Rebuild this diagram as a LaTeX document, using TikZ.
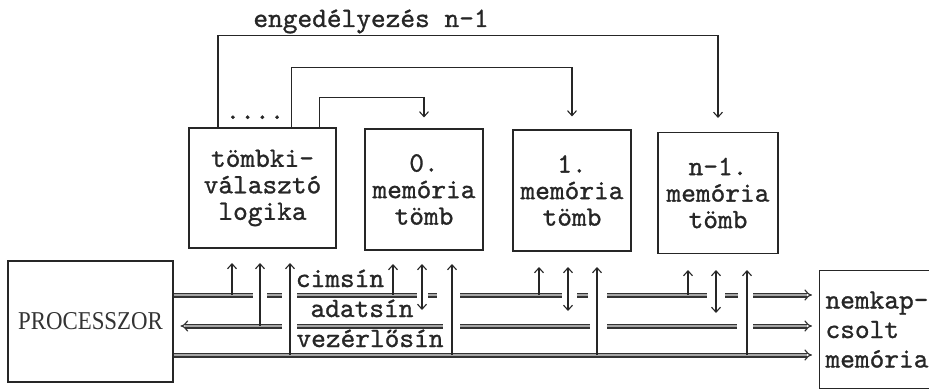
\documentclass[tikz,border=0pt]{standalone}
\usepackage{fontspec}
\newfontfamily\procfont{Liberation Serif}
\newfontfamily\dotfont{lmmono10-regular}[Extension=.otf, FakeBold=1.0]
\usetikzlibrary{arrows.meta}
\begin{document}
\begin{tikzpicture}[x=1pt,y=-1pt,
  box/.style={draw=black!85, line width=1.1pt, inner sep=0pt},
  tt/.style={font=\dotfont\fontsize{28pt}{26.5pt}\selectfont, text=black!85},
  bus/.style={draw=black!80, line width=1.2pt, double=black!35, double distance=2.6pt},
  busarrow/.style={bus, -{Implies}},
  sig/.style={draw=black!85, line width=1.1pt, -{Straight Barb[length=5pt,width=9pt]}},
  bisig/.style={draw=black!85, line width=1.1pt, {Straight Barb[length=5pt,width=9pt]}-{Straight Barb[length=5pt,width=9pt]}}
]
\useasboundingbox (0,0) rectangle (929,390);
\clip (0,0) rectangle (929,390);

% boxes
\node[box, tt, align=center, minimum width=147pt, minimum height=120pt] (sel) at (262.5,188) {tömbki-\\választó\\logika};
\node[box, tt, align=center, minimum width=118pt, minimum height=121pt] (m0) at (424,189.5) {0.\\memória\\tömb};
\node[box, tt, align=center, minimum width=118pt, minimum height=121pt] (m1) at (572,190.5) {1.\\memória\\tömb};
\node[box, tt, align=center, minimum width=120pt, minimum height=121pt] (m2) at (718,193) {n-1.\\memória\\tömb};
\node[box, minimum width=165pt, minimum height=121pt] (proc) at (90.5,321.5)
  {\procfont\fontsize{25.7pt}{30pt}\selectfont\color{black!80}\scalebox{0.89}[1]{PROCESSZOR}};
\node[box, tt, font=\dotfont\fontsize{28pt}{29.5pt}\selectfont, align=left, anchor=north west,
  minimum height=118pt, text width=110pt, inner xsep=6pt] (nm) at (819,270) {nemkap-\\csolt\\memória};

% top enable lines
\node[tt, anchor=base] (lab) at (371,27) {engedélyezés n-1};
\node[tt, anchor=base] (dots) at (255,119) {....};
\draw[sig] ([xshift=29.5pt]sel.north west) -- ++(0,-92) -| ([yshift=14pt]m2.north);
\draw[sig] ([xshift=103pt]sel.north west) -- ++(0,-60) -| ([yshift=13pt]m1.north);
\draw[sig] ([xshift=131pt]sel.north west) -- ++(0,-30) -| ([yshift=11pt]m0.north);

% bus levels
\coordinate (ya) at (0,295);
\coordinate (yd) at (0,326);
\coordinate (yc) at (0,355);

% address bus
\coordinate (a0) at (253,295);
\draw[bus] (proc.east |- ya) -- (a0);
\foreach \a/\b [count=\i] in {267/282, 297/417, 428/437, 460/562, 577/588, 607/707, 725/738}{
  \coordinate (as\i) at (\a,295);
  \coordinate (ae\i) at (\b,295);
  \draw[bus] (as\i) -- (ae\i);
}
\coordinate (a9) at (753,295);
\draw[busarrow, shorten >=7pt] (a9) -- (nm.west |- ya);

% data bus
\coordinate (d0) at (282,326);
\draw[busarrow, shorten >=7pt] (d0) -- (proc.east |- yd);
\foreach \a/\b [count=\i] in {297/443, 460/590, 607/737}{
  \coordinate (ds\i) at (\a,326);
  \coordinate (de\i) at (\b,326);
  \draw[bus] (ds\i) -- (de\i);
}
\coordinate (d9) at (753,326);
\draw[busarrow, shorten >=7pt] (d9) -- (nm.west |- yd);

% control bus
\draw[busarrow, shorten >=7pt] (proc.east |- yc) -- (nm.west |- yc);

% bus labels
\node[tt, anchor=base] (lca) at (340,287) {cimsín};
\node[tt, anchor=base] (lda) at (362,317) {adatsín};
\node[tt, anchor=base] (lco) at (370,347) {vezérlősín};

% vertical signals
\foreach \x/\y/\t [count=\i] in {232/295/263, 260/326/263, 290/355/263,
                                 393/295/264, 452/355/264,
                                 539/295/267, 597/355/267,
                                 688/295/270, 747/355/270}{
  \coordinate (vs\i) at (\x,\y);
  \coordinate (vt\i) at (\x,\t);
  \draw[sig] (vs\i) -- (vt\i);
}
\foreach \x/\t/\b [count=\i] in {422/264/310, 568/267/311, 716/270/313}{
  \coordinate (bt\i) at (\x,\t);
  \coordinate (bb\i) at (\x,\b);
  \draw[bisig] (bb\i) -- (bt\i);
}
\end{tikzpicture}
\end{document}
